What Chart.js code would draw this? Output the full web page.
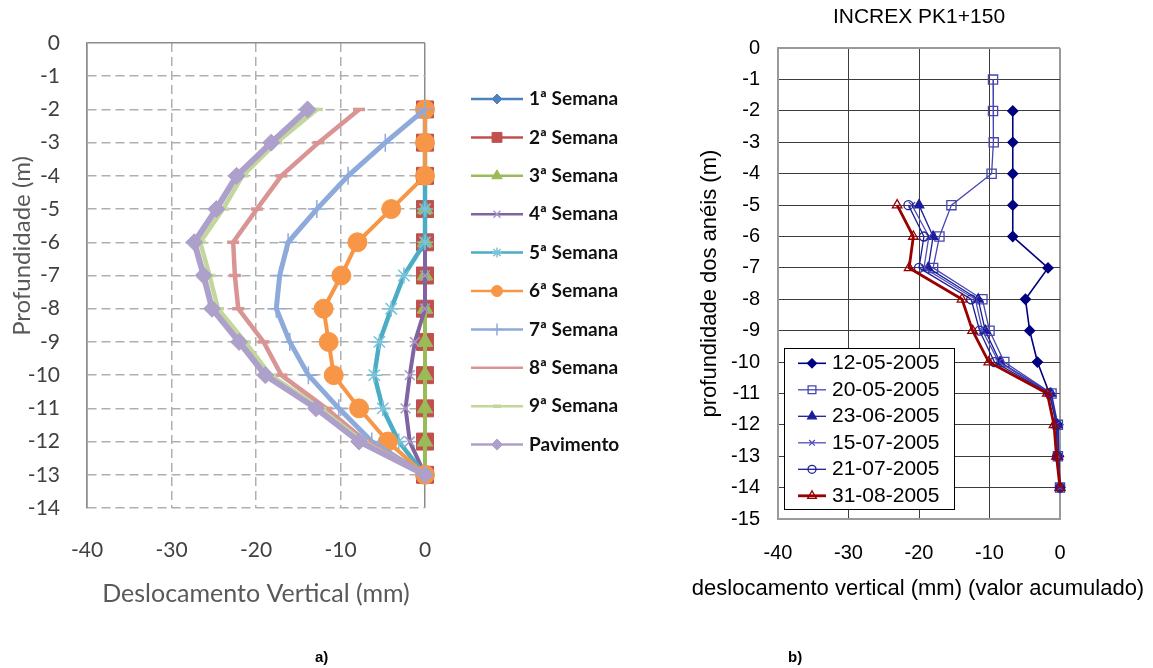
<!DOCTYPE html>
<html>
<head>
<meta charset="utf-8">
<script src="https://cdn.jsdelivr.net/npm/chart.js@4.4.1/dist/chart.umd.min.js"></script>
<style>
  html, body { margin: 0; padding: 0; background: #fff; width: 1153px; height: 668px; overflow: hidden; }
  #weekly { position: absolute; left: 0; top: 0; }
  #rings { position: absolute; left: 660px; top: 0; }
  .tag { position: absolute; top: 648px; font: bold 15px "Liberation Sans", Arial, sans-serif; color: #000; }
</style>
</head>
<body>
<canvas id="weekly" width="660" height="668"></canvas>
<canvas id="rings" width="493" height="668"></canvas>
<div class="tag" style="left:315px">a)</div>
<div class="tag" style="left:788px">b)</div>
<script>
// ---------- a) weekly settlement profiles ----------
const depthsWeekly = [-2, -3, -4, -5, -6, -7, -8, -9, -10, -11, -12, -13];
const week1 = [0, 0, 0, 0, 0, 0, 0, 0, 0, 0, 0, 0];
const week2 = [0, 0, 0, 0, 0, 0, 0, 0, 0, 0, 0, 0];
const week3 = [0, 0, 0, 0, 0, 0, 0, 0, 0, 0, 0, 0];
const week4 = [0, 0, 0, 0, 0, 0, 0, -1.2, -1.8, -2.3, -1.8, 0];
const week5 = [0, 0, 0, 0, 0, -2.5, -4.0, -5.4, -6.0, -5.0, -3.1, 0];
const week6 = [0, 0, 0, -4.0, -8.0, -9.9, -12.0, -11.4, -10.8, -7.8, -4.4, 0];
const week7 = [0, -4.7, -9.1, -12.8, -16.2, -17.2, -17.6, -16.0, -13.8, -10.2, -6.3, 0];
const week8 = [-7.8, -12.6, -17.0, -19.9, -22.7, -22.5, -22.1, -19.1, -17.0, -11.7, -7.0, 0];
const week9 = [-12.8, -17.6, -21.6, -23.9, -26.6, -25.5, -24.5, -21.3, -18.3, -12.4, -7.4, 0];
const pavimento = [-13.9, -18.2, -22.3, -24.7, -27.3, -26.2, -25.2, -22.0, -18.9, -12.9, -7.8, 0];
const weekLabels = ['1ª Semana', '2ª Semana', '3ª Semana', '4ª Semana', '5ª Semana',
                    '6ª Semana', '7ª Semana', '8ª Semana', '9ª Semana', 'Pavimento'];
const weekSeries = [week1, week2, week3, week4, week5, week6, week7, week8, week9, pavimento];
const weeklyXTicks = [-40, -30, -20, -10, 0];
const weeklyDepthTicks = [0, -1, -2, -3, -4, -5, -6, -7, -8, -9, -10, -11, -12, -13, -14];

// ---------- b) INCREX PK1+150 ----------
const ringDates = ['12-05-2005', '20-05-2005', '23-06-2005', '15-07-2005', '21-07-2005', '31-08-2005'];
const depths12May = [-2, -3, -4, -5, -6, -7, -8, -9, -10, -11, -12, -13, -14];
const disp12May = [-6.7, -6.7, -6.7, -6.7, -6.7, -1.7, -4.9, -4.3, -3.2, -1.5, -0.3, -0.2, 0];
const depths20May = [-1, -2, -3, -4, -5, -6, -7, -8, -9, -10, -11, -12, -13, -14];
const disp20May = [-9.5, -9.5, -9.4, -9.7, -15.4, -17.1, -18.0, -11.0, -10.0, -7.9, -1.2, -0.3, -0.3, 0];
const depthsRings = [-5, -6, -7, -8, -9, -10, -11, -12, -13, -14];
const disp23Jun = [-20.0, -18.0, -18.7, -11.6, -10.6, -8.5, -1.3, -0.4, -0.3, 0];
const disp15Jul = [-21.0, -18.6, -19.3, -12.0, -11.0, -8.7, -1.4, -0.5, -0.3, 0];
const disp21Jul = [-21.5, -19.3, -20.0, -12.6, -11.4, -9.3, -1.5, -0.5, -0.4, 0];
const disp31Aug = [-23.1, -20.8, -21.4, -13.9, -12.4, -10.1, -1.8, -0.85, -0.5, 0];

function pts(xs, ys) { return xs.map((x, i) => ({ x: x, y: ys[i] })); }

// legend drawn with the same point shapes as the datasets
const sideLegend = {
  id: 'sideLegend',
  afterDraw(chart, args, o) {
    const ctx = chart.ctx;
    ctx.save();
    if (o.box) {
      ctx.fillStyle = '#fff';
      ctx.fillRect(o.box.x, o.box.y, o.box.w, o.box.h);
      ctx.strokeStyle = '#000';
      ctx.lineWidth = 1;
      ctx.strokeRect(o.box.x + 0.5, o.box.y + 0.5, o.box.w, o.box.h);
    }
    chart.data.datasets.forEach((ds, i) => {
      const y = o.top + i * o.step;
      ctx.setLineDash([]);
      ctx.strokeStyle = ds.borderColor;
      ctx.lineWidth = o.lineWidths[i];
      ctx.beginPath();
      ctx.moveTo(o.x1, y);
      ctx.lineTo(o.x2, y);
      ctx.stroke();
      ctx.fillStyle = ds.pointBackgroundColor;
      ctx.strokeStyle = ds.pointBorderColor;
      ctx.lineWidth = ds.pointBorderWidth;
      Chart.helpers.drawPoint(ctx, { pointStyle: ds.pointStyle, radius: o.radii[i], borderWidth: ds.pointBorderWidth, rotation: 0 }, (o.x1 + o.x2) / 2, y);
      ctx.fillStyle = o.color;
      ctx.font = o.font;
      ctx.textAlign = 'left';
      ctx.textBaseline = 'middle';
      ctx.fillText(ds.label, o.textX, y);
    });
    ctx.restore();
  }
};

// free-standing axis caption (horizontal or rotated)
const axisCaption = {
  id: 'axisCaption',
  afterDraw(chart, args, o) {
    const ctx = chart.ctx;
    ctx.save();
    ctx.translate(o.x, o.y);
    if (o.rotate) ctx.rotate(-Math.PI / 2);
    ctx.fillStyle = o.color;
    ctx.font = o.font;
    ctx.textAlign = 'center';
    ctx.textBaseline = 'middle';
    ctx.fillText(o.text, 0, 0);
    ctx.restore();
  }
};

// weekly chart styling
const weekLine = ['#4F81BD', '#C0504D', '#9BBB59', '#8064A2', '#4BACC6', '#F79646', '#8EAADB', '#D99594', '#C3D69B', '#ADA0CB'];
const weekMarkLine = ['#4F81BD', '#C0504D', '#9BBB59', '#A797C8', '#7CC3D8', '#F79646', '#8EAADB', '#D99594', '#C3D69B', '#ADA0CB'];
const weekShape = ['rectRot', 'rect', 'triangle', 'crossRot', 'star', 'circle', 'cross', 'line', 'line', 'rectRot'];
const weekRadius = [7, 12, 9, 7, 8, 9.5, 9, 6, 6, 8.5];
const weekWidth = [4, 4, 4, 4, 4.5, 4, 5, 4.5, 4.5, 6];
const weekMarkWidth = [1, 1, 1, 1.5, 1.5, 1, 1.5, 3.5, 3.5, 1];

const weeklyDatasets = weekSeries.map((s, i) => ({
  label: weekLabels[i],
  data: pts(s, depthsWeekly),
  showLine: true,
  borderColor: weekLine[i],
  borderWidth: weekWidth[i],
  pointStyle: weekShape[i],
  pointRadius: weekRadius[i],
  pointBackgroundColor: weekMarkLine[i],
  pointBorderColor: weekMarkLine[i],
  pointBorderWidth: weekMarkWidth[i],
  clip: false,
  order: 10 - i
}));

const dashedUnlessEdge = (lo, hi) => (c) => (c.tick && (c.tick.value === lo || c.tick.value === hi)) ? [] : [9, 5];
const greyEdge = (lo, hi) => (c) => (c.tick && (c.tick.value === lo || c.tick.value === hi)) ? '#8C8C8C' : '#AFAFAF';

new Chart(document.getElementById('weekly'), {
  type: 'scatter',
  data: { datasets: weeklyDatasets },
  plugins: [sideLegend, axisCaption],
  options: {
    responsive: false,
    animation: false,
    devicePixelRatio: 1,
    layout: { padding: { left: 0, top: 43, right: 235, bottom: 59 } },
    plugins: {
      legend: { display: false },
      tooltip: { enabled: false },
      sideLegend: {
        top: 99, step: 38.4, x1: 471, x2: 523, textX: 529,
        lineWidths: [2.5, 2.5, 2.5, 2.5, 2.5, 2.5, 2.5, 2.5, 2.5, 2.5],
        radii: [5, 7, 6, 5, 5, 5.5, 6, 0, 4, 5.5],
        color: '#111', font: 'bold 19px Lato'
      },
      axisCaption: { x: 22, y: 246, rotate: true, text: 'Profundidade (m)', color: '#595959', font: '24px Lato' }
    },
    scales: {
      x: {
        type: 'linear', min: -40, max: 0,
        afterFit(s) { s.height = 101; },
        afterBuildTicks(s) { s.ticks = weeklyXTicks.map(v => ({ value: v })); },
        ticks: { padding: 30, color: '#404040', font: { family: 'Lato', size: 21 } },
        grid: { drawTicks: false, color: greyEdge(-40, 0), lineWidth: 1.5 },
        border: { display: false, dash: dashedUnlessEdge(-40, 0) },
        title: { display: true, text: 'Deslocamento Vertical (mm)', color: '#595959', font: { family: 'Lato', size: 25 }, padding: 0 }
      },
      y: {
        type: 'linear', min: -14, max: 0,
        afterFit(s) { s.width = 87; },
        afterBuildTicks(s) { s.ticks = weeklyDepthTicks.map(v => ({ value: v })); },
        ticks: { padding: 27, color: '#404040', autoSkip: false, font: { family: 'Lato', size: 21 } },
        grid: { drawTicks: false, color: greyEdge(0, 999), lineWidth: 1.5 },
        border: { display: true, color: '#8C8C8C', width: 1.5, dash: dashedUnlessEdge(0, 999) }
      }
    }
  }
});

// ring inclinometer chart styling
const ringColor = ['#000080', '#4646B4', '#1C1C9C', '#5050B8', '#1E1E96', '#990000'];
const ringShape = ['rectRot', 'rect', 'triangle', 'crossRot', 'circle', 'triangle'];
const ringRadius = [5, 6.5, 5.5, 4.5, 4.5, 5.5];
const ringFill = ['#000080', 'rgba(255,255,255,0)', '#1C1C9C', 'rgba(255,255,255,0)', 'rgba(255,255,255,0)', 'rgba(255,255,255,0)'];
const ringWidth = [1.6, 1.3, 1.3, 1.3, 1.3, 2.8];
const ringDepths = [depths12May, depths20May, depthsRings, depthsRings, depthsRings, depthsRings];
const ringValues = [disp12May, disp20May, disp23Jun, disp15Jul, disp21Jul, disp31Aug];
const ringXTicks = [-40, -30, -20, -10, 0];
const ringDepthTicks = [0, -1, -2, -3, -4, -5, -6, -7, -8, -9, -10, -11, -12, -13, -14, -15];

const ringDatasets = ringDates.map((d, i) => ({
  label: d,
  data: pts(ringValues[i], ringDepths[i]),
  showLine: true,
  borderColor: ringColor[i],
  borderWidth: ringWidth[i],
  pointStyle: ringShape[i],
  pointRadius: ringRadius[i],
  pointBackgroundColor: ringFill[i],
  pointBorderColor: ringColor[i],
  pointBorderWidth: 1.3,
  clip: false,
  order: 6 - i
}));

const ringEdge = (lo, hi) => (c) => (c.tick && (c.tick.value === lo || c.tick.value === hi));

new Chart(document.getElementById('rings'), {
  type: 'scatter',
  data: { datasets: ringDatasets },
  plugins: [sideLegend, axisCaption],
  options: {
    responsive: false,
    animation: false,
    devicePixelRatio: 1,
    layout: { padding: { left: 0, top: 0, right: 93, bottom: 67 } },
    plugins: {
      legend: { display: false },
      tooltip: { enabled: false },
      title: {
        display: true, text: 'INCREX PK1+150', fullSize: false, color: '#000',
        font: { family: 'Liberation Sans', size: 21, weight: 'normal' },
        padding: { top: 5, bottom: 18 }
      },
      sideLegend: {
        box: { x: 124, y: 348, w: 170, h: 161 },
        top: 363.3, step: 26.5, x1: 138, x2: 166, textX: 172,
        lineWidths: [1.6, 1.3, 1.3, 1.3, 1.3, 2.8],
        radii: [4.5, 5.5, 5, 4, 4, 5],
        color: '#000', font: '21px "Liberation Sans"'
      },
      axisCaption: { x: 258, y: 589, rotate: false, text: 'deslocamento vertical (mm) (valor acumulado)', color: '#000', font: '22px "Liberation Sans"' }
    },
    scales: {
      x: {
        type: 'linear', min: -40, max: 0,
        afterFit(s) { s.height = 82; },
        afterBuildTicks(s) { s.ticks = ringXTicks.map(v => ({ value: v })); },
        ticks: { padding: 22, color: '#000', font: { family: 'Liberation Sans', size: 20 } },
        grid: {
          drawTicks: false,
          color: c => ringEdge(-40, 0)(c) ? '#9A9A9A' : '#3C3C3C',
          lineWidth: c => ringEdge(-40, 0)(c) ? 2 : 1
        },
        border: { display: true, color: '#9A9A9A', width: 2 }
      },
      y: {
        type: 'linear', min: -15, max: 0,
        afterFit(s) { s.width = 118; },
        afterBuildTicks(s) { s.ticks = ringDepthTicks.map(v => ({ value: v })); },
        ticks: { padding: 18, color: '#000', autoSkip: false, font: { family: 'Liberation Sans', size: 20 } },
        grid: {
          drawTicks: false,
          color: c => ringEdge(0, -15)(c) ? '#9A9A9A' : '#3C3C3C',
          lineWidth: c => ringEdge(0, -15)(c) ? 2 : 1
        },
        border: { display: true, color: '#9A9A9A', width: 2 },
        title: { display: true, text: 'profundidade dos anéis (m)', color: '#000', font: { family: 'Liberation Sans', size: 22 }, padding: { top: 37, bottom: 0 } }
      }
    }
  }
});
</script>
</body>
</html>
